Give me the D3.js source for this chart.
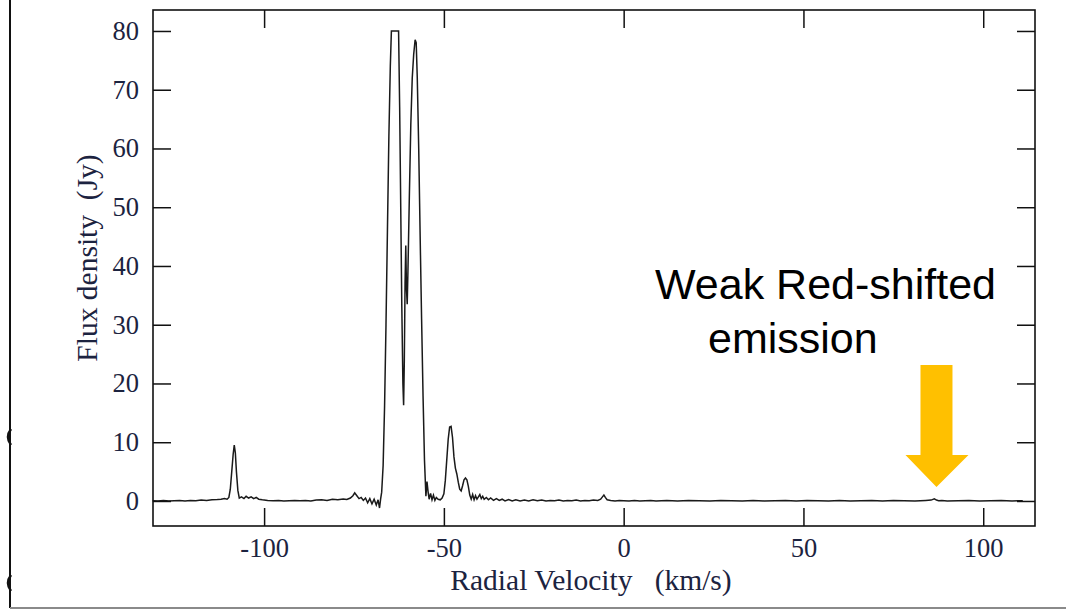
<!DOCTYPE html>
<html>
<head>
<meta charset="utf-8">
<script src="https://cdn.jsdelivr.net/npm/d3@7"></script>
<style>
  html, body { margin: 0; padding: 0; background: #ffffff; }
  svg { display: block; }
</style>
</head>
<body>
<svg id="chart" width="1066" height="613"></svg>
<script>
// ---- data ----
const velocity = [
  -131, -129.5, -128, -126.5, -125, -123.5, -122, -120.5, -119, -117.5, -116, -114.5, -113, -112, -111,
  -110.3, -109.8, -109.4, -109.0, -108.6, -108.3, -108.0, -107.7, -107.3, -106.9, -106.3, -105.6, -105.0,
  -104.3, -103.6, -102.9, -102.2, -101.5, -100.5, -99, -97.5, -96, -94.5, -93, -91.5, -90, -88.5, -87,
  -85.5, -84, -82.5, -81, -79.5, -78, -77, -76, -75.3, -74.8, -74.2, -73.6, -73, -72.4, -71.8, -71.2,
  -70.6, -70.0, -69.4, -68.8, -68.3, -67.9, -67.6, -67.3, -66.9, -66.5, -66.1, -65.7, -65.3, -64.9, -64.6,
  -62.6, -62.3, -62.0, -61.7, -61.4, -61.2, -61.0, -60.8, -60.6, -60.4, -60.2, -60.0, -59.6, -59.2, -58.8,
  -58.4, -58.0, -57.7, -57.4, -57.0, -56.6, -56.2, -55.8, -55.4, -55.0, -54.7, -54.4, -54.1, -53.7, -53.3,
  -52.9, -52.5, -52.1, -51.6, -51.0, -50.5, -50.0, -49.6, -49.2, -48.8, -48.4, -48.0, -47.6, -47.2, -46.8,
  -46.4, -46.0, -45.6, -45.2, -44.8, -44.4, -44.0, -43.6, -43.2, -42.8, -42.4, -42.0, -41.6, -41.2, -40.8,
  -40.4, -40.0, -39.6, -39.2, -38.8, -38.2, -37.6, -37.0, -36.2, -35.4, -34.6, -33.8, -33.0, -32.0, -31.0,
  -30.0, -28.8, -27.6, -26.4, -25.2, -24.0, -22.8, -21.6, -20.4, -19.2, -18.0, -16.8, -15.6, -14.4, -13.2,
  -12.0, -10.8, -9.6, -8.4, -7.2, -6.4, -5.9, -5.5, -5.1, -4.6, -3.6, -2.4, -1.2, 0, 1.5, 3, 4.5, 6, 7.5,
  9, 10.5, 12, 15, 18, 21, 24, 27, 30, 33, 36, 39, 42, 45, 48, 51, 54, 57, 60, 63, 66, 69, 72, 75, 78, 81,
  84, 85.5, 86.4, 87, 87.6, 88.5, 90, 93, 96, 99, 102, 105, 108, 111, 114.5
];
const flux = [
  0.05, 0.0, 0.1, 0.0, 0.05, 0.1, 0.0, 0.1, 0.05, 0.15, 0.1, 0.2, 0.25, 0.3, 0.4,
  0.3, 0.6, 2.0, 5.0, 8.0, 9.5, 8.2, 5.0, 1.8, 0.5, 0.7, 0.4, 0.8,
  0.5, 0.7, 0.4, 0.6, 0.3, 0.2, 0.1, 0.05, 0.1, 0.0, 0.05, 0.1, 0.05, 0.1, 0.0,
  0.15, 0.2, 0.1, 0.3, 0.2, 0.35, 0.25, 0.5, 0.9, 1.4, 0.9, 0.4, 0.6, 0.1, 0.5, -0.3,
  0.4, -0.5, 0.3, -0.7, 0.2, -1.2, 0.3, 1.5, 6, 16, 30, 46, 62, 74, 80,
  80, 67, 50, 33, 20, 16.3, 24, 37, 43.5, 36, 33.5, 39, 52, 64, 72,
  76, 78.5, 78, 72, 60, 45, 31, 18, 7, 0.8, 3.3, 1.6, 0.3, 1.3, 0.2,
  1.0, 0.1, 0.6, 0.3, 0.2, 0.5, 1.2, 3.5, 7, 10.5, 12.6, 12.7, 10.8, 7.5, 5.6,
  4.6, 3.2, 2.0, 1.7, 2.6, 3.6, 3.9, 3.6, 2.5, 1.0, 0.3, 1.1, 0.2, 0.9, 0.3,
  0.7, 1.1, 0.4, 0.8, 0.3, 0.6, 0.2, 0.5, 0.1, 0.4, 0.1, 0.3, 0.0, 0.25, 0.0,
  0.2, 0.0, 0.15, 0.0, 0.2, 0.05, 0.15, 0.0, 0.1, 0.05, 0.15, 0.0, 0.1, 0.05, 0.15,
  0.0, 0.1, 0.05, 0.15, 0.1, 0.3, 0.7, 1.0, 0.6, 0.2, 0.1, 0.0, 0.1, 0.05, 0.0, 0.1, 0.0, 0.05, 0.1,
  0.0, 0.05, 0.1, 0.0, 0.1, 0.05, 0.0, 0.1, 0.05, 0.0, 0.1, 0.0, 0.05, 0.1, 0.0, 0.1, 0.05, 0.0, 0.1, 0.0, 0.05, 0.1, 0.0, 0.1, 0.05,
  0.0, 0.1, 0.15, 0.35, 0.15, 0.05, 0.1, 0.0, 0.05, 0.1, 0.0, 0.05, 0.1, 0.0, 0.05
];
const xTicks = [-100, -50, 0, 50, 100];
const yTicks = [0, 10, 20, 30, 40, 50, 60, 70, 80];
const xLabel = "Radial Velocity   (km/s)";
const yLabel = "Flux density  (Jy)";
const noteLines = ["Weak Red-shifted", "emission"];
const arrowVelocity = 87;

// ---- layout ----
const svg = d3.select("#chart");
const L = 153, R = 1035, T = 10, B = 526;
const x = d3.scaleLinear().domain([-130.9, 114.4]).range([L, R]);
const y = d3.scaleLinear().domain([-4.26, 83.57]).range([B, T]);
const textColor = "#1c2340";
const serif = "'Liberation Serif', 'Times New Roman', serif";

// outer slide edges
svg.append("line").attr("x1", 10).attr("x2", 10).attr("y1", 0).attr("y2", 608)
  .attr("stroke", "#111").attr("stroke-width", 2);
svg.append("line").attr("x1", 10).attr("x2", 1066).attr("y1", 608).attr("y2", 608)
  .attr("stroke", "#8a8a8a").attr("stroke-width", 2);
// fragments of cut-off glyphs on left edge
[437, 583].forEach(cy => {
  svg.append("path")
    .attr("d", `M11,${cy - 8} Q5,${cy} 11,${cy + 8}`)
    .attr("fill", "none").attr("stroke", "#111").attr("stroke-width", 2.5);
});

// spectrum
const pts = velocity.map((v, i) => [v, flux[i]]);
const line = d3.line().x(d => x(d[0])).y(d => y(d[1]));
svg.append("path").datum(pts).attr("d", line)
  .attr("fill", "none").attr("stroke", "#1a1a1a").attr("stroke-width", 1.5)
  .attr("stroke-linejoin", "miter");

// axes (ticks inward on all four sides)
const tickLen = 18;
const fmt = d => String(d);
const axB = svg.append("g").attr("transform", `translate(0,${B})`)
  .call(d3.axisBottom(x).tickValues(xTicks).tickSizeInner(-tickLen).tickSizeOuter(0).tickPadding(12).tickFormat(fmt));
const axT = svg.append("g").attr("transform", `translate(0,${T})`)
  .call(d3.axisTop(x).tickValues(xTicks).tickSizeInner(-tickLen).tickSizeOuter(0).tickFormat(""));
const axL = svg.append("g").attr("transform", `translate(${L},0)`)
  .call(d3.axisLeft(y).tickValues(yTicks).tickSizeInner(-tickLen).tickSizeOuter(0).tickPadding(14).tickFormat(fmt));
const axR = svg.append("g").attr("transform", `translate(${R},0)`)
  .call(d3.axisRight(y).tickValues(yTicks).tickSizeInner(-tickLen).tickSizeOuter(0).tickFormat(""));
[axB, axT, axL, axR].forEach(g => {
  g.select(".domain").remove();
  g.selectAll(".tick line").attr("stroke", "#111").attr("stroke-width", 1.5);
  g.selectAll(".tick text").attr("font-family", serif).attr("font-size", 26.5).attr("fill", textColor);
});

// frame
svg.append("rect").attr("x", L).attr("y", T).attr("width", R - L).attr("height", B - T)
  .attr("fill", "none").attr("stroke", "#111").attr("stroke-width", 1.6);

// axis titles
svg.append("text").attr("x", 591).attr("y", 590)
  .attr("text-anchor", "middle").attr("font-family", serif).attr("font-size", 29.5)
  .attr("fill", textColor).style("white-space", "pre").text(xLabel);
svg.append("text").attr("transform", `translate(97,${(y(0) + y(80)) / 2 - 8}) rotate(-90)`)
  .attr("text-anchor", "middle").attr("font-family", serif).attr("font-size", 29.5)
  .attr("fill", textColor).style("white-space", "pre").text(yLabel);

// annotation
const sans = "'Liberation Sans', Arial, sans-serif";
svg.append("text").attr("x", 655).attr("y", 299).attr("font-family", sans).attr("font-size", 43)
  .attr("fill", "#000").text(noteLines[0]);
svg.append("text").attr("x", 708).attr("y", 353).attr("font-family", sans).attr("font-size", 43)
  .attr("fill", "#000").text(noteLines[1]);

// arrow pointing at the weak feature
const ax = x(arrowVelocity), tipY = y(0) - 14;
const arrowPts = [
  [ax - 16, 365], [ax + 16, 365], [ax + 16, tipY - 32], [ax + 32, tipY - 32],
  [ax, tipY], [ax - 31, tipY - 32], [ax - 16, tipY - 32]
];
svg.append("polygon").attr("points", arrowPts.map(p => p.join(",")).join(" "))
  .attr("fill", "#FFC000");
</script>
</body>
</html>
